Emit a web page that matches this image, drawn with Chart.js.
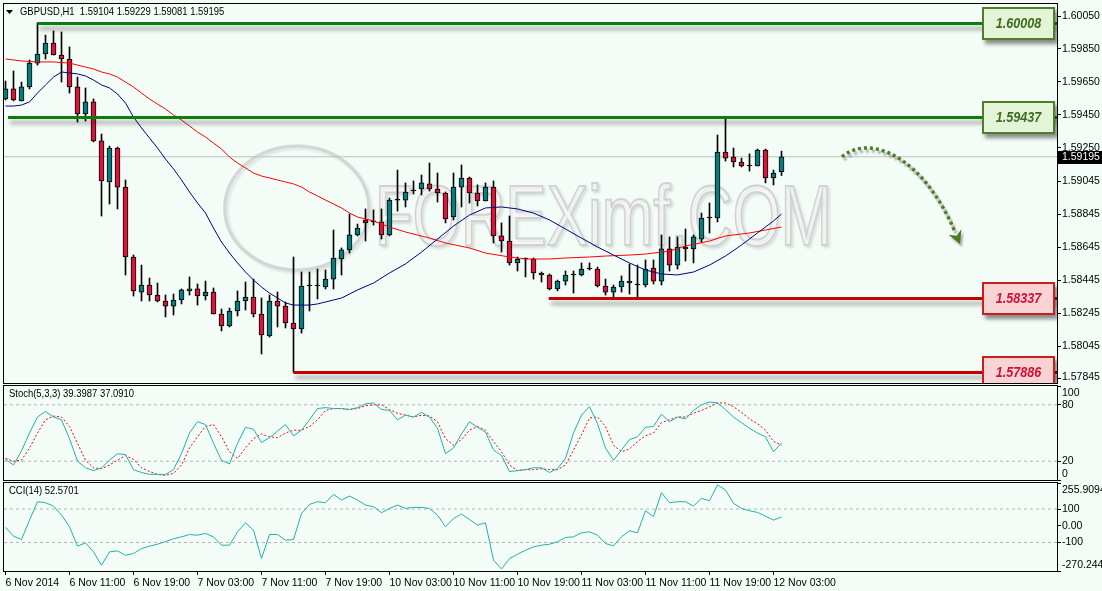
<!DOCTYPE html>
<html>
<head>
<meta charset="utf-8">
<title>GBPUSD H1</title>
<script src="https://cdn.jsdelivr.net/npm/chart.js@4.4.1/dist/chart.umd.min.js"></script>
<style>
  body { margin: 0; background: #f3fcf6; }
  #wrap { position: relative; width: 1102px; height: 591px; overflow: hidden; }
  canvas { position: absolute; left: 0; }
</style>
</head>
<body>
<div id="wrap">
  <canvas id="mainChart" width="1102" height="384" style="top:0"></canvas>
  <canvas id="stochChart" width="1102" height="97" style="top:384px"></canvas>
  <canvas id="cciChart" width="1102" height="110" style="top:481px"></canvas>
</div>
<script>
const symbolName = 'GBPUSD,H1';

// H1 candles, bar 0 = 6 Nov 03:00
const opens = [
  1.59546, 1.59607, 1.59534, 1.59619, 1.59764, 1.59819, 1.59886, 1.59813, 1.59789, 1.59619,
  1.59455, 1.59528, 1.59291, 1.59042, 1.59248, 1.59011, 1.58586, 1.58373, 1.58416, 1.58355,
  1.58319, 1.58288, 1.58325, 1.58380, 1.58392, 1.58349, 1.58373, 1.58240, 1.58167, 1.58258,
  1.58319, 1.58343, 1.58240, 1.58106, 1.58319, 1.58288, 1.58185, 1.58149, 1.58410, 1.58410,
  1.58404, 1.58452, 1.58574, 1.58629, 1.58720, 1.58811, 1.58799, 1.58799, 1.58720, 1.58932,
  1.58932, 1.58987, 1.58999, 1.59030, 1.58999, 1.58975, 1.58829, 1.59011, 1.59066, 1.58975,
  1.58926, 1.59011, 1.58714, 1.58683, 1.58550, 1.58574, 1.58574, 1.58489, 1.58477, 1.58392,
  1.58440, 1.58477, 1.58477, 1.58513, 1.58513, 1.58410, 1.58373, 1.58404, 1.58440, 1.58416,
  1.58416, 1.58519, 1.58440, 1.58635, 1.58537, 1.58647, 1.58635, 1.58695, 1.58823, 1.58823,
  1.59224, 1.59193, 1.59163, 1.59139, 1.59139, 1.59236, 1.59066, 1.59104
];
const highs = [
  1.59655, 1.59716, 1.59649, 1.59783, 1.60008, 1.59934, 1.59959, 1.59953, 1.59862, 1.59679,
  1.59613, 1.59546, 1.59333, 1.59260, 1.59254, 1.59054, 1.58598, 1.58537, 1.58458, 1.58428,
  1.58355, 1.58361, 1.58392, 1.58465, 1.58422, 1.58440, 1.58398, 1.58270, 1.58276, 1.58380,
  1.58434, 1.58452, 1.58337, 1.58355, 1.58373, 1.58313, 1.58586, 1.58495, 1.58495, 1.58513,
  1.58507, 1.58750, 1.58641, 1.58847, 1.58786, 1.58878, 1.58872, 1.58878, 1.58944, 1.59114,
  1.59036, 1.59048, 1.59084, 1.59157, 1.59096, 1.58981, 1.59096, 1.59145, 1.59072, 1.59024,
  1.59036, 1.59048, 1.58793, 1.58835, 1.58586, 1.58580, 1.58580, 1.58495, 1.58483, 1.58446,
  1.58501, 1.58501, 1.58550, 1.58550, 1.58525, 1.58452, 1.58416, 1.58471, 1.58544, 1.58537,
  1.58568, 1.58568, 1.58720, 1.58708, 1.58708, 1.58756, 1.58720, 1.58853, 1.58914, 1.59327,
  1.59437, 1.59248, 1.59187, 1.59212, 1.59242, 1.59242, 1.59114, 1.59229
];
const lows = [
  1.59540, 1.59534, 1.59534, 1.59607, 1.59752, 1.59789, 1.59813, 1.59649, 1.59582, 1.59406,
  1.59412, 1.59285, 1.58835, 1.58908, 1.58878, 1.58477, 1.58349, 1.58319, 1.58319, 1.58313,
  1.58222, 1.58234, 1.58301, 1.58355, 1.58294, 1.58325, 1.58240, 1.58137, 1.58161, 1.58228,
  1.58264, 1.58222, 1.57997, 1.58100, 1.58161, 1.58155, 1.57886, 1.58124, 1.58258, 1.58331,
  1.58392, 1.58392, 1.58477, 1.58610, 1.58714, 1.58683, 1.58780, 1.58695, 1.58714, 1.58865,
  1.58890, 1.58969, 1.58963, 1.58987, 1.58920, 1.58793, 1.58811, 1.58890, 1.58914, 1.58896,
  1.58926, 1.58671, 1.58616, 1.58537, 1.58501, 1.58465, 1.58452, 1.58434, 1.58386, 1.58380,
  1.58416, 1.58367, 1.58471, 1.58507, 1.58404, 1.58355, 1.58343, 1.58373, 1.58361, 1.58343,
  1.58404, 1.58422, 1.58416, 1.58501, 1.58513, 1.58562, 1.58550, 1.58677, 1.58732, 1.58799,
  1.59169, 1.59133, 1.59133, 1.59108, 1.59139, 1.59036, 1.59024, 1.59081
];
const closes = [
  1.59607, 1.59540, 1.59619, 1.59764, 1.59819, 1.59886, 1.59813, 1.59789, 1.59619, 1.59455,
  1.59528, 1.59291, 1.59048, 1.59248, 1.59011, 1.58586, 1.58380, 1.58416, 1.58355, 1.58319,
  1.58288, 1.58325, 1.58386, 1.58392, 1.58349, 1.58373, 1.58240, 1.58167, 1.58258, 1.58319,
  1.58343, 1.58240, 1.58112, 1.58319, 1.58288, 1.58185, 1.58149, 1.58410, 1.58410, 1.58410,
  1.58452, 1.58580, 1.58629, 1.58720, 1.58762, 1.58793, 1.58799, 1.58720, 1.58932, 1.58932,
  1.58981, 1.58987, 1.59036, 1.58999, 1.58975, 1.58817, 1.59011, 1.59066, 1.58975, 1.58926,
  1.59011, 1.58714, 1.58683, 1.58550, 1.58574, 1.58574, 1.58489, 1.58477, 1.58392, 1.58440,
  1.58477, 1.58477, 1.58513, 1.58513, 1.58410, 1.58373, 1.58404, 1.58440, 1.58428, 1.58416,
  1.58513, 1.58440, 1.58635, 1.58537, 1.58647, 1.58635, 1.58708, 1.58823, 1.58823, 1.59224,
  1.59187, 1.59163, 1.59139, 1.59139, 1.59236, 1.59066, 1.59096, 1.59195
];

// moving averages (navy = fast, red = slow), read at these bars
const blueMaBars = [0, 1, 2, 3, 4, 5, 6, 7, 8, 9, 10, 11, 12, 13, 14, 15, 16, 17, 18, 19, 20, 21, 22, 23, 24,
  25, 26, 27, 28, 29, 30, 31, 32, 33, 34, 35, 36, 37, 38, 39, 40, 41, 42, 43, 44, 46, 48, 50, 52, 54,
  56, 58, 60, 62, 64, 66, 68, 70, 72, 74, 76, 78, 80, 82, 84, 86, 88, 90, 92, 94, 96, 97];
const blueMa = [1.59503, 1.59503, 1.59509, 1.59528, 1.59582, 1.59631, 1.59679, 1.59710, 1.59704, 1.59698,
  1.59686, 1.59661, 1.59631, 1.59613, 1.59576, 1.59521, 1.59436, 1.59370, 1.59309, 1.59248, 1.59181,
  1.59121, 1.59054, 1.58981, 1.58914, 1.58853, 1.58762, 1.58677, 1.58610, 1.58550, 1.58495, 1.58446,
  1.58404, 1.58367, 1.58337, 1.58307, 1.58294, 1.58294, 1.58294, 1.58301, 1.58313, 1.58325, 1.58337,
  1.58361, 1.58386, 1.58428, 1.58489, 1.58544, 1.58616, 1.58695, 1.58774, 1.58841, 1.58884, 1.58890,
  1.58878, 1.58853, 1.58811, 1.58756, 1.58701, 1.58647, 1.58598, 1.58550, 1.58507, 1.58483, 1.58477,
  1.58495, 1.58537, 1.58592, 1.58659, 1.58732, 1.58805, 1.58847];
const redMaBars = [0, 2, 4, 6, 8, 9, 10, 11, 12, 13, 14, 15, 16, 17, 18, 19, 20, 21, 22, 23, 24, 25, 26, 27,
  28, 29, 30, 31, 32, 33, 34, 35, 36, 37, 38, 39, 40, 41, 42, 43, 44, 46, 48, 50, 53, 55, 58, 60, 63, 65,
  68, 70, 73, 75, 78, 80, 83, 85, 88, 90, 93, 95, 97];
const redMa = [1.59789, 1.59777, 1.59771, 1.59771, 1.59764, 1.59752, 1.59740, 1.59728, 1.59710, 1.59698,
  1.59679, 1.59649, 1.59619, 1.59582, 1.59546, 1.59515, 1.59485, 1.59449, 1.59418, 1.59382, 1.59345,
  1.59315, 1.59278, 1.59242, 1.59193, 1.59157, 1.59127, 1.59096, 1.59078, 1.59066, 1.59054, 1.59042,
  1.59030, 1.59011, 1.58981, 1.58957, 1.58932, 1.58908, 1.58884, 1.58853, 1.58829, 1.58805, 1.58768,
  1.58738, 1.58701, 1.58671, 1.58641, 1.58610, 1.58586, 1.58574, 1.58574, 1.58580, 1.58586, 1.58592,
  1.58598, 1.58604, 1.58622, 1.58653, 1.58683, 1.58714, 1.58732, 1.58750, 1.58768];

// Stoch(5,3,3) and CCI(14), one value per bar
const stochK = [22, 16, 31, 50, 67, 73, 67, 64, 44, 20,
  13, 10, 13, 21, 28, 27, 11, 8, 6, 6,
  6, 11, 28, 50, 62, 59, 39, 21, 17, 39,
  56, 54, 40, 45, 52, 59, 47, 53, 64, 76,
  77, 76, 76, 75, 77, 81, 82, 75, 74, 64,
  69, 67, 72, 67, 55, 28, 34, 49, 62, 56,
  51, 32, 26, 9, 10, 11, 13, 13, 8, 12,
  23, 50, 69, 78, 60, 34, 21, 32, 43, 46,
  56, 57, 70, 62, 67, 65, 74, 80, 83, 82,
  75, 67, 61, 55, 50, 46, 30, 39.3987];
const stochD = [23, 20, 21, 34, 50, 64, 68, 67, 57, 39,
  21, 13, 12, 16, 21, 26, 22, 13, 9, 6,
  5, 7, 16, 34, 46, 57, 59, 46, 30, 23,
  34, 44, 49, 46, 45, 50, 53, 53, 57, 64,
  74, 76, 76, 75, 76, 79, 80, 80, 75, 71,
  69, 67, 69, 68, 62, 44, 37, 43, 53, 57,
  53, 41, 30, 16, 10, 11, 11, 12, 11, 11,
  16, 32, 48, 66, 67, 57, 37, 30, 33, 41,
  47, 50, 61, 64, 67, 67, 71, 74, 78, 82,
  82, 78, 72, 65, 60, 53, 41, 37.0910];
const cciValues = [-10, -62, -82, 34, 144, 138, 118, 64, -6, -122,
  -102, -156, -236, -156, -150, -176, -166, -136, -122, -110,
  -94, -78, -66, -52, -56, -46, -66, -116, -116, -36,
  18, -26, -196, -52, -52, -86, -82, 74, 128, 144,
  138, 188, 154, 178, 154, 124, 114, 78, 104, 124,
  104, 110, 110, 104, 64, -6, 44, 70, 38, 4,
  18, -206, -258, -196, -170, -146, -126, -116, -110, -96,
  -70, -66, -42, -36, -56, -106, -120, -66, -30, -42,
  90, 54, 198, 138, 144, 144, 118, 164, 150, 245,
  214, 134, 104, 90, 80, 58, 34, 52.5701];

const priceTicks = [1.60050, 1.59850, 1.59650, 1.59450, 1.59250, 1.59045, 1.58845, 1.58645, 1.58445, 1.58245, 1.58045, 1.57845];
const stochTicks = [100, 80, 20, 0];
const stochLevels = [80, 20];
const cciTicks = [255.9094, 100, 0, -100, -270.2444];
const cciTickLabels = ['255.9094', '100', '0.00', '-100', '-270.2444'];
const cciLevels = [100, -100];
const timeTicks = [0, 8, 16, 24, 32, 40, 48, 56, 64, 72, 80, 88, 96];
const timeLabels = ['6 Nov 2014', '6 Nov 11:00', '6 Nov 19:00', '7 Nov 03:00', '7 Nov 11:00', '7 Nov 19:00',
  '10 Nov 03:00', '10 Nov 11:00', '10 Nov 19:00', '11 Nov 03:00', '11 Nov 11:00', '11 Nov 19:00', '12 Nov 03:00'];

// support / resistance levels and the forecast arrow
const levelPrices = [1.60008, 1.59437, 1.58337, 1.57886];
const levelStartBars = [4, 0.3, 67.9, 36];
const levelTypes = ['res', 'res', 'sup', 'sup'];
const arrowBars = [104.56, 108.31, 114.94, 118.69];
const arrowPrices = [1.59195, 1.59345, 1.59175, 1.58738];

const X_MIN = -0.1875, X_MAX = 131.4375;
const BULL = '#008080', BEAR = '#dc143c';
const AXIS_FONT = '10.5px "Liberation Sans", Arial, sans-serif';
const last = closes.length - 1;

Chart.defaults.animation = false;
Chart.defaults.events = [];

const xHidden = { type: 'linear', min: X_MIN, max: X_MAX, offset: false, display: false };

function rightAxis(min, max, ticks) {
    return {
        position: 'right', min: min, max: max,
        afterFit: s => { s.width = 45; },
        afterBuildTicks: s => { s.ticks = ticks.map(v => ({ value: v })); },
        ticks: { display: false },
        grid: { drawOnChartArea: false, drawTicks: true, tickLength: 4, color: '#000' },
        border: { display: false }
    };
}

function pts(xs, ys) {
    return xs.map((x, i) => ({ x: x, y: ys[i] }));
}

function levelLine(v, color) {
    return {
        type: 'line', data: [{ x: X_MIN, y: v }, { x: X_MAX, y: v }],
        borderColor: color, borderWidth: 1, borderDash: [3, 3], pointRadius: 0, order: 9
    };
}

// panel titles are a bit narrower than the axis text
function titleText(ctx, text, x, y) {
    ctx.save();
    ctx.translate(x, y);
    ctx.scale(0.9, 1);
    ctx.fillText(text, 0, 0);
    ctx.restore();
}

// border, right labels and title of a panel
function panelFrame(id, values, texts, titleFn) {
    return {
        id: id,
        afterDraw(chart) {
            const { ctx, chartArea: a, scales: { y } } = chart;
            ctx.save();
            ctx.strokeStyle = '#000';
            ctx.lineWidth = 1;
            ctx.strokeRect(a.left - 0.5, a.top - 0.5, a.width + 1, a.height + 1);
            ctx.font = AXIS_FONT;
            ctx.fillStyle = '#000';
            ctx.textBaseline = 'middle';
            ctx.textAlign = 'left';
            values.forEach((v, i) => {
                let py = y.getPixelForValue(v);
                py = Math.min(Math.max(py, a.top + 7), a.bottom - 6);
                ctx.fillText(texts[i], a.right + 5, py);
            });
            titleFn(ctx, a);
            ctx.restore();
        }
    };
}

const mainDecor = {
    id: 'mainDecor',
    beforeDatasetsDraw(chart) {
        const { ctx, chartArea: a } = chart;
        ctx.save();
        ctx.beginPath();
        ctx.rect(a.left, a.top, a.width, a.height);
        ctx.clip();
        ctx.shadowColor = 'rgba(0,0,0,0.12)';
        ctx.shadowBlur = 3;
        ctx.shadowOffsetX = 2;
        ctx.shadowOffsetY = 2;
        ctx.strokeStyle = 'rgba(210,210,210,0.9)';
        ctx.lineWidth = 3;
        ctx.beginPath();
        ctx.ellipse(a.left + a.width * 0.278, a.top + a.height * 0.538, 72, 62, 0, 0, Math.PI * 2);
        ctx.stroke();
        ctx.translate(a.left + a.width * 0.352, a.top + a.height * 0.637);
        ctx.scale(0.72, 1);
        ctx.font = '86px "Liberation Sans", Arial, sans-serif';
        ctx.lineWidth = 2;
        ctx.fillStyle = 'rgba(255,255,255,0.75)';
        ctx.fillText('FOREXimf.COM', 0, 0);
        ctx.strokeStyle = 'rgba(205,205,205,0.9)';
        ctx.strokeText('FOREXimf.COM', 0, 0);
        ctx.restore();
    },
    afterDatasetsDraw(chart) {
        const { ctx, chartArea: a, scales: { x, y } } = chart;
        ctx.save();
        ctx.beginPath();
        ctx.rect(a.left, a.top, a.width, a.height);
        ctx.clip();

        // level lines
        levelPrices.forEach((lv, i) => {
            const py = Math.round(y.getPixelForValue(lv)) + 0.5;
            const px = x.getPixelForValue(levelStartBars[i]);
            ctx.save();
            ctx.shadowColor = 'rgba(0,0,0,0.35)';
            ctx.shadowBlur = 4;
            ctx.shadowOffsetX = 2;
            ctx.shadowOffsetY = 5;
            ctx.strokeStyle = levelTypes[i] === 'res' ? '#0a7d0a' : '#c40000';
            ctx.lineWidth = 3;
            ctx.beginPath();
            ctx.moveTo(px, py);
            ctx.lineTo(a.right, py);
            ctx.stroke();
            ctx.restore();
        });

        // forecast arrow
        const ap = arrowBars.map((b, i) => [x.getPixelForValue(b), y.getPixelForValue(arrowPrices[i])]);
        ctx.save();
        ctx.shadowColor = 'rgba(0,0,0,0.3)';
        ctx.shadowBlur = 2;
        ctx.shadowOffsetX = 2;
        ctx.shadowOffsetY = 3;
        ctx.strokeStyle = '#4b7b22';
        ctx.fillStyle = '#4b7b22';
        ctx.lineWidth = 3.5;
        ctx.setLineDash([3, 3]);
        ctx.beginPath();
        ctx.moveTo(ap[0][0], ap[0][1]);
        ctx.bezierCurveTo(ap[1][0], ap[1][1], ap[2][0], ap[2][1], ap[3][0], ap[3][1]);
        ctx.stroke();
        ctx.setLineDash([]);
        let dx = ap[3][0] - ap[2][0], dy = ap[3][1] - ap[2][1];
        const len = Math.hypot(dx, dy);
        dx /= len; dy /= len;
        const tip = [ap[3][0] + dx * 13, ap[3][1] + dy * 13];
        const notch = [ap[3][0] + dx * 4, ap[3][1] + dy * 4];
        ctx.beginPath();
        ctx.moveTo(tip[0], tip[1]);
        ctx.lineTo(ap[3][0] - dy * 7, ap[3][1] + dx * 7);
        ctx.lineTo(notch[0], notch[1]);
        ctx.lineTo(ap[3][0] + dy * 7, ap[3][1] - dx * 7);
        ctx.closePath();
        ctx.fill();
        ctx.restore();

        // level labels
        levelPrices.forEach((lv, i) => {
            const py = Math.round(y.getPixelForValue(lv));
            const res = levelTypes[i] === 'res';
            const bx = a.right - 75, bw = 73, bh = 33, by = py - 16;
            ctx.save();
            ctx.shadowColor = 'rgba(0,0,0,0.45)';
            ctx.shadowBlur = 4;
            ctx.shadowOffsetX = 3;
            ctx.shadowOffsetY = 4;
            ctx.fillStyle = res ? '#e4f4d7' : '#f8d3d3';
            ctx.fillRect(bx, by, bw, bh);
            ctx.restore();
            ctx.save();
            ctx.strokeStyle = res ? '#4f7d2b' : '#c81e1e';
            ctx.lineWidth = 2;
            ctx.strokeRect(bx + 1, by + 1, bw - 2, bh - 2);
            ctx.fillStyle = res ? '#3f6b1f' : '#d0103a';
            ctx.font = 'italic bold 14px "Liberation Sans", Arial, sans-serif';
            ctx.textAlign = 'center';
            ctx.textBaseline = 'middle';
            ctx.translate(bx + bw / 2, by + bh / 2 + 1);
            ctx.scale(0.9, 1);
            ctx.fillText(lv.toFixed(5), 0, 0);
            ctx.restore();
        });
        ctx.restore();
    },
    afterDraw(chart) {
        const { ctx, chartArea: a, scales: { y } } = chart;
        ctx.save();
        const py = Math.round(y.getPixelForValue(closes[last]));
        ctx.fillStyle = '#000';
        ctx.fillRect(a.right + 1, py - 6, chart.width - a.right - 1, 13);
        ctx.fillStyle = '#fff';
        ctx.font = AXIS_FONT;
        ctx.textBaseline = 'middle';
        ctx.fillText(closes[last].toFixed(5), a.right + 5, py + 0.5);
        ctx.restore();
    }
};

const mainTitle = (ctx, a) => {
    ctx.beginPath();
    ctx.moveTo(a.left + 2, a.top + 6);
    ctx.lineTo(a.left + 9, a.top + 6);
    ctx.lineTo(a.left + 5.5, a.top + 10);
    ctx.closePath();
    ctx.fill();
    const ohlc = [opens[last], highs[last], lows[last], closes[last]].map(v => v.toFixed(5)).join(' ');
    titleText(ctx, symbolName + '  ' + ohlc, a.left + 16, a.top + 8);
};

const bodyColors = opens.map((o, i) => closes[i] > o ? BULL : (closes[i] < o ? BEAR : '#000'));

new Chart(document.getElementById('mainChart'), {
    type: 'bar',
    data: {
        datasets: [
            {
                type: 'line', data: [{ x: X_MIN, y: closes[last] }, { x: X_MAX, y: closes[last] }],
                borderColor: '#c0c0c0', borderWidth: 1, pointRadius: 0, order: 9
            },
            {
                data: opens.map((o, i) => ({ x: i, y: [lows[i], highs[i]] })),
                backgroundColor: '#000', barThickness: 1, grouped: false, order: 5
            },
            {
                data: opens.map((o, i) => ({ x: i, y: [o, closes[i]] })),
                backgroundColor: bodyColors, borderColor: '#000', borderWidth: 1, borderSkipped: false,
                barThickness: 5, minBarLength: 1, grouped: false, order: 4
            },
            {
                type: 'line', data: pts(redMaBars, redMa), borderColor: '#ff0000',
                borderWidth: 1, pointRadius: 0, order: 2
            },
            {
                type: 'line', data: pts(blueMaBars, blueMa), borderColor: '#000080',
                borderWidth: 1, pointRadius: 0, order: 1
            }
        ]
    },
    options: {
        responsive: false,
        devicePixelRatio: 1,
        layout: { padding: { left: 4, top: 4, bottom: 1, right: 0 } },
        plugins: { legend: { display: false }, tooltip: { enabled: false } },
        scales: {
            x: xHidden,
            y: rightAxis(1.578207, 1.601229, priceTicks)
        }
    },
    plugins: [mainDecor, panelFrame('mainFrame', priceTicks, priceTicks.map(v => v.toFixed(5)), mainTitle)]
});

const bars = closes.map((c, i) => i);

new Chart(document.getElementById('stochChart'), {
    type: 'line',
    data: {
        datasets: [
            levelLine(stochLevels[0], '#b4b4b4'),
            levelLine(stochLevels[1], '#b4b4b4'),
            { data: pts(bars, stochD), borderColor: '#ff0000', borderWidth: 1, borderDash: [2, 2], pointRadius: 0, order: 2 },
            { data: pts(bars, stochK), borderColor: '#20b2aa', borderWidth: 1, pointRadius: 0, order: 1 }
        ]
    },
    options: {
        responsive: false,
        devicePixelRatio: 1,
        layout: { padding: { left: 4, top: 2, bottom: 1, right: 0 } },
        plugins: { legend: { display: false }, tooltip: { enabled: false } },
        scales: { x: xHidden, y: rightAxis(0, 100, stochTicks) }
    },
    plugins: [panelFrame('stochFrame', stochTicks, stochTicks.map(String), (ctx, a) => {
        titleText(ctx, 'Stoch(5,3,3) ' + stochK[last].toFixed(4) + ' ' + stochD[last].toFixed(4), a.left + 5, a.top + 8);
    })]
});

new Chart(document.getElementById('cciChart'), {
    type: 'line',
    data: {
        datasets: [
            levelLine(cciLevels[0], '#b4b4b4'),
            levelLine(cciLevels[1], '#b4b4b4'),
            { data: pts(bars, cciValues), borderColor: '#20b2aa', borderWidth: 1, pointRadius: 0, order: 1 }
        ]
    },
    options: {
        responsive: false,
        devicePixelRatio: 1,
        layout: { padding: { left: 4, top: 2, bottom: 0, right: 0 } },
        plugins: { legend: { display: false }, tooltip: { enabled: false } },
        scales: {
            x: {
                type: 'linear', min: X_MIN, max: X_MAX, position: 'bottom', offset: false,
                afterFit: s => { s.height = 20; },
                afterBuildTicks: s => { s.ticks = timeTicks.map(v => ({ value: v })); },
                ticks: {
                    autoSkip: false, maxRotation: 0, align: 'start', padding: 2,
                    color: '#000', font: { family: '"Liberation Sans", Arial, sans-serif', size: 10.5 },
                    callback: (v, i) => timeLabels[i]
                },
                grid: { drawOnChartArea: false, drawTicks: true, tickLength: 4, color: '#000' },
                border: { display: false }
            },
            y: rightAxis(-270.2444, 255.9094, cciTicks)
        }
    },
    plugins: [panelFrame('cciFrame', cciTicks, cciTickLabels, (ctx, a) => {
        titleText(ctx, 'CCI(14) ' + cciValues[last].toFixed(4), a.left + 5, a.top + 8);
    })]
});
</script>
</body>
</html>
